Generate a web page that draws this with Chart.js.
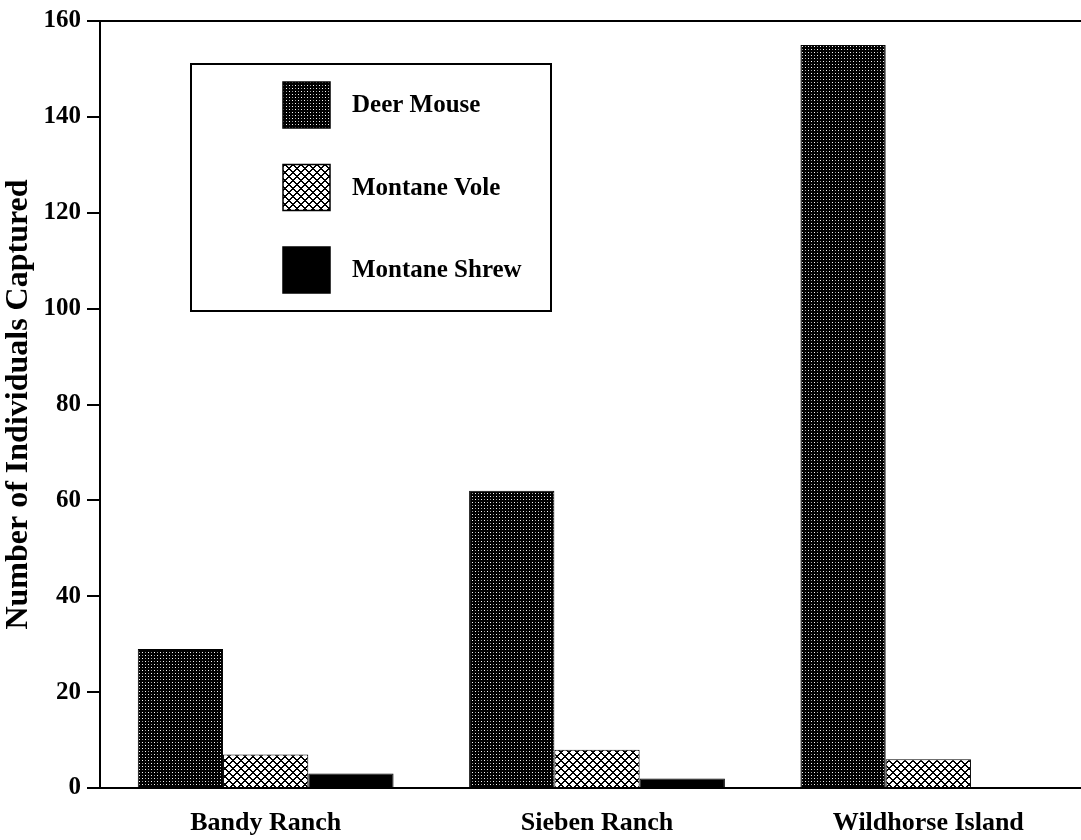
<!DOCTYPE html>
<html>
<head>
<meta charset="utf-8">
<script src="https://cdn.jsdelivr.net/npm/chart.js@4.4.1/dist/chart.umd.min.js"></script>
<style>
  html, body { margin: 0; padding: 0; background: #fff; overflow: hidden; }
  #wrap { width: 1100px; height: 840px; }
</style>
</head>
<body>
<div id="wrap"><canvas id="c" width="1100" height="840"></canvas></div>
<script>
const categories = ["Bandy Ranch", "Sieben Ranch", "Wildhorse Island"];
const seriesNames = ["Deer Mouse", "Montane Vole", "Montane Shrew"];
const deerMouse = [29, 62, 155];
const montaneVole = [7, 8, 6];
const montaneShrew = [3, 2, 0];
const yTicks = [0, 20, 40, 60, 80, 100, 120, 140, 160];

function makeTile(size, drawFn) {
  const cv = document.createElement('canvas');
  cv.width = size; cv.height = size;
  const g = cv.getContext('2d');
  drawFn(g, size);
  return cv;
}
const ctxMain = document.getElementById('c').getContext('2d');
const deerTile = makeTile(6, (g, s) => {
  g.fillStyle = '#000'; g.fillRect(0, 0, s, s);
  g.fillStyle = '#fff';
  g.fillRect(1, 1, 1, 1); g.fillRect(4, 4, 1, 1);
  g.fillStyle = '#9a9a9a';
  g.fillRect(4, 1, 1, 1); g.fillRect(1, 4, 1, 1);
});
const voleTile = makeTile(8, (g, s) => {
  g.fillStyle = '#fff'; g.fillRect(0, 0, s, s);
  g.fillStyle = '#000';
  for (let x = 0; x < s; x++) for (let y = 0; y < s; y++) {
    const a = (x + y) % s, b = (x - y + s) % s;
    if (a === 0 || a === 1 || b === 0 || b === 1) g.fillRect(x, y, 1, 1);
  }
});
const deerPattern = ctxMain.createPattern(deerTile, 'repeat');
const volePattern = ctxMain.createPattern(voleTile, 'repeat');
const fills = [deerPattern, volePattern, '#000'];

const topLine = {
  id: 'topLine',
  afterDraw(chart) {
    const c = chart.ctx, a = chart.chartArea, y = chart.scales.y.getPixelForValue(yTicks[yTicks.length - 1]);
    c.save(); c.strokeStyle = '#000'; c.lineWidth = 2;
    c.beginPath(); c.moveTo(a.left - 1, y); c.lineTo(a.right + 20, y); c.stroke();
    c.restore();
  }
};

const boxLegend = {
  id: 'boxLegend',
  afterDraw(chart) {
    const c = chart.ctx;
    const bx = 191, by = 64, bw = 360, bh = 247;
    c.save();
    c.fillStyle = '#fff'; c.fillRect(bx, by, bw, bh);
    c.strokeStyle = '#000'; c.lineWidth = 2; c.strokeRect(bx, by, bw, bh);
    c.font = 'bold 25px "Liberation Serif", "Times New Roman", serif';
    c.textBaseline = 'middle'; c.textAlign = 'left';
    chart.data.datasets.forEach((ds, i) => {
      const sy = 82 + i * 82.5;
      c.fillStyle = ds.backgroundColor;
      c.fillRect(283, sy, 47, 46);
      c.strokeStyle = '#000'; c.lineWidth = 1.5; c.strokeRect(283, sy, 47, 46);
      c.fillStyle = '#000';
      c.fillText(ds.label, 352, sy + 24);
    });
    c.restore();
  }
};

new Chart(ctxMain, {
  type: 'bar',
  data: {
    labels: categories,
    datasets: [
      { label: seriesNames[0], data: deerMouse, backgroundColor: fills[0], borderColor: '#000', borderWidth: 1 },
      { label: seriesNames[1], data: montaneVole, backgroundColor: fills[1], borderColor: '#000', borderWidth: 1 },
      { label: seriesNames[2], data: montaneShrew, backgroundColor: fills[2], borderColor: '#000', borderWidth: 1 }
    ]
  },
  options: {
    responsive: false,
    animation: false,
    layout: { padding: { top: 19, right: 6, left: 0, bottom: 0 } },
    plugins: { legend: { display: false }, tooltip: { enabled: false } },
    datasets: { bar: { categoryPercentage: 0.772, barPercentage: 1.0 } },
    scales: {
      x: {
        grid: { display: false, drawTicks: false },
        border: { color: '#000', width: 2 },
        ticks: { color: '#000', padding: 20, maxRotation: 0,
          font: { family: '"Liberation Serif", "Times New Roman", serif', size: 26, weight: 'bold' } },
        afterFit(scale) { scale.height = 52; }
      },
      y: {
        min: 0, max: 160,
        afterBuildTicks(scale) { scale.ticks = yTicks.map(v => ({ value: v })); },
        grid: { drawOnChartArea: false, drawTicks: true, tickLength: 13, color: '#000', lineWidth: 2 },
        border: { color: '#000', width: 2 },
        ticks: { color: '#000', padding: 6,
          font: { family: '"Liberation Serif", "Times New Roman", serif', size: 25, weight: 'bold' } },
        title: { display: true, text: 'Number of Individuals Captured', color: '#000', padding: { top: 0, bottom: 4 },
          font: { family: '"Liberation Serif", "Times New Roman", serif', size: 32, weight: 'bold' } },
        afterFit(scale) { scale.width = 100; }
      }
    }
  },
  plugins: [topLine, boxLegend]
});
</script>
</body>
</html>
